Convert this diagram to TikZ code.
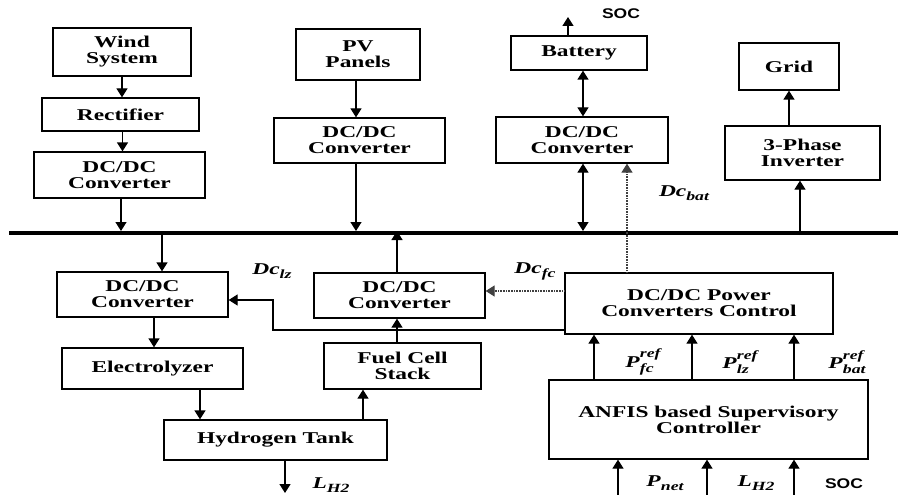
\documentclass[tikz,border=0pt]{standalone}
\usepackage{fontspec}
\setmainfont{Liberation Serif}[FakeStretch=1.42]
\newfontfamily\socfont{Liberation Sans}[FakeStretch=1.25]
\usetikzlibrary{arrows.meta}
\newcommand\lab[3]{\textbf{\textit{#1}}\raisebox{-5pt}{\fontsize{12.5}{12.5}\selectfont\bfseries\itshape\shortstack[l]{#3\\#2}}}
\newcommand\labs[2]{\textbf{\textit{#1}}\raisebox{-4pt}{\fontsize{12.5}{12.5}\selectfont\bfseries\itshape #2}}
\tikzset{
  blk/.style={draw, line width=1.3pt, inner sep=0pt, align=center,
    font=\bfseries\fontsize{16.5}{16}\selectfont},
  arr/.style={line width=1.3pt, -{Triangle[length=9pt,width=11pt]}},
  darr/.style={line width=1.3pt, {Triangle[length=9pt,width=11pt]}-{Triangle[length=9pt,width=11pt]}},
  dotarr/.style={line width=1.3pt, black!75, dash pattern=on 0.8pt off 0.8pt,
    -{Triangle[length=9pt,width=11pt]}},
  lbl/.style={inner sep=0pt, font=\fontsize{16.5}{16.5}\selectfont},
  soc/.style={inner sep=0pt, font=\socfont\bfseries\fontsize{14}{14}\selectfont}
}
\begin{document}
\begin{tikzpicture}[x=1pt,y=-1pt]
\useasboundingbox (0,0) rectangle (898,495);
% boxes
\node[blk, minimum width=138pt, minimum height=48pt] (wind) at (122,52) {Wind\\System};
\node[blk, minimum width=157pt, minimum height=33pt] (rect) at (120.5,114.5) {Rectifier};
\node[blk, minimum width=171pt, minimum height=46pt] (dcw) at (119.5,175) {DC/DC\\Converter};
\node[blk, minimum width=124pt, minimum height=51pt] (pv) at (358,54.5) {PV\\Panels};
\node[blk, minimum width=171pt, minimum height=45pt] (dcpv) at (359.5,140.5) {DC/DC\\Converter};
\node[blk, minimum width=136pt, minimum height=34pt] (bat) at (579,53) {Battery};
\node[blk, minimum width=172pt, minimum height=46pt] (dcb) at (582,140) {DC/DC\\Converter};
\node[blk, minimum width=100pt, minimum height=47pt] (grid) at (789,66.5) {Grid};
\node[blk, minimum width=155pt, minimum height=54pt] (inv) at (802.5,153) {3-Phase\\Inverter};
\node[blk, minimum width=171pt, minimum height=45pt] (dclz) at (142.5,294.5) {DC/DC\\Converter};
\node[blk, minimum width=181pt, minimum height=41pt] (elz) at (152.5,368.5) {Electrolyzer};
\node[blk, minimum width=223pt, minimum height=40pt] (tank) at (275.5,440) {Hydrogen Tank};
\node[blk, minimum width=157pt, minimum height=46pt] (fcs) at (402.5,366) {Fuel Cell\\Stack};
\node[blk, minimum width=171pt, minimum height=45pt] (dcfc) at (399.5,295.5) {DC/DC\\Converter};
\node[blk, minimum width=268pt, minimum height=61pt] (ctrl) at (699,303.5) {DC/DC Power\\Converters Control};
\node[blk, minimum width=319pt, minimum height=79pt] (anfis) at (708.5,419.5) {ANFIS based Supervisory\\Controller};
% bus
\coordinate (busL) at (9,233);
\coordinate (busR) at (898,233);
\draw[line width=4pt] (busL) -- (busR);
\coordinate (bus) at (0,231);
\coordinate (busb) at (0,235);
\coordinate (bottom) at (0,495);
% top arrows
\draw[arr] (wind.south) -- (wind.south |- rect.north);
\draw[arr] ([xshift=2pt]rect.south) -- ([xshift=2pt]rect.south |- dcw.north);
\draw[arr] ([xshift=1.5pt]dcw.south) -- ([xshift=1.5pt]dcw.south |- bus);
\draw[arr] ([xshift=-2pt]pv.south) -- ([xshift=-2pt]pv.south |- dcpv.north);
\draw[arr] ([xshift=-3.5pt]dcpv.south) -- ([xshift=-3.5pt]dcpv.south |- bus);
\draw[darr] ([xshift=4pt]bat.south) -- ([xshift=4pt]bat.south |- dcb.north);
\draw[darr] ([xshift=1pt]dcb.south) -- ([xshift=1pt]dcb.south |- bus);
\coordinate (socend) at (568,17);
\draw[arr] ([xshift=-11pt]bat.north) -- ([xshift=-11pt]bat.north |- socend);
\node[soc] (soc1) at (621,14) {SOC};
\draw[arr] ([xshift=-13.5pt]inv.north) -- ([xshift=-13.5pt]inv.north |- grid.south);
\draw[arr] ([xshift=-2.5pt]inv.south |- busb) -- ([xshift=-2.5pt]inv.south);
\draw[dotarr] ([xshift=-72pt]ctrl.north) -- ([xshift=-72pt]ctrl.north |- dcb.south);
\node[lbl] (dcbat) at (684,193) {\labs{Dc}{bat}};
% lower left
\draw[arr] ([xshift=19.5pt]dclz.north |- busb) -- ([xshift=19.5pt]dclz.north);
\draw[arr] ([xshift=11.5pt]dclz.south) -- ([xshift=11.5pt]dclz.south |- elz.north);
\draw[arr] ([xshift=47.5pt]elz.south) -- ([xshift=47.5pt]elz.south |- tank.north);
\draw[arr] ([xshift=87.5pt]tank.north) -- ([xshift=87.5pt]tank.north |- fcs.south);
\draw[arr] ([xshift=-5.5pt]fcs.north) -- ([xshift=-5.5pt]fcs.north |- dcfc.south);
\draw[arr] ([xshift=-2.5pt]dcfc.north) -- ([xshift=-2.5pt]dcfc.north |- bus);
\coordinate (lh2end) at (0,493);
\draw[arr] ([xshift=9.5pt]tank.south) -- ([xshift=9.5pt]tank.south |- lh2end);
\node[lbl] (lh2a) at (331,485) {\labs{L}{H2}};
\node[lbl] (dclzl) at (272,271) {\labs{Dc}{lz}};
\node[lbl] (dcfcl) at (535,271) {\labs{Dc}{fc}};
% control connections
\draw[dotarr] ([yshift=12.5pt]ctrl.west) -- ([yshift=12.5pt]ctrl.west -| dcfc.east);
\coordinate (bend) at (273,0);
\coordinate (lzin) at ([yshift=-5.5pt]dclz.east);
\draw[arr] ([yshift=-26.5pt]ctrl.west) -| (bend |- lzin) -- (lzin);
% anfis to control
\draw[arr] ([xshift=-114.5pt]anfis.north) -- ([xshift=-114.5pt]anfis.north |- ctrl.south);
\draw[arr] ([xshift=-16.5pt]anfis.north) -- ([xshift=-16.5pt]anfis.north |- ctrl.south);
\draw[arr] ([xshift=85.5pt]anfis.north) -- ([xshift=85.5pt]anfis.north |- ctrl.south);
\node[lbl] (pfc) at (643,362) {\lab{P}{fc}{ref}};
\node[lbl] (plz) at (740,362) {\lab{P}{lz}{ref}};
\node[lbl] (pbat) at (847,362) {\lab{P}{bat}{ref}};
% inputs
\draw[arr] ([xshift=-90.5pt]anfis.south |- bottom) -- ([xshift=-90.5pt]anfis.south);
\draw[arr] ([xshift=-1.5pt]anfis.south |- bottom) -- ([xshift=-1.5pt]anfis.south);
\draw[arr] ([xshift=85.5pt]anfis.south |- bottom) -- ([xshift=85.5pt]anfis.south);
\node[lbl] (pnet) at (665,483) {\labs{P}{net}};
\node[lbl] (lh2b) at (756,483) {\labs{L}{H2}};
\node[soc] (soc2) at (844,484) {SOC};
\end{tikzpicture}
\end{document}
